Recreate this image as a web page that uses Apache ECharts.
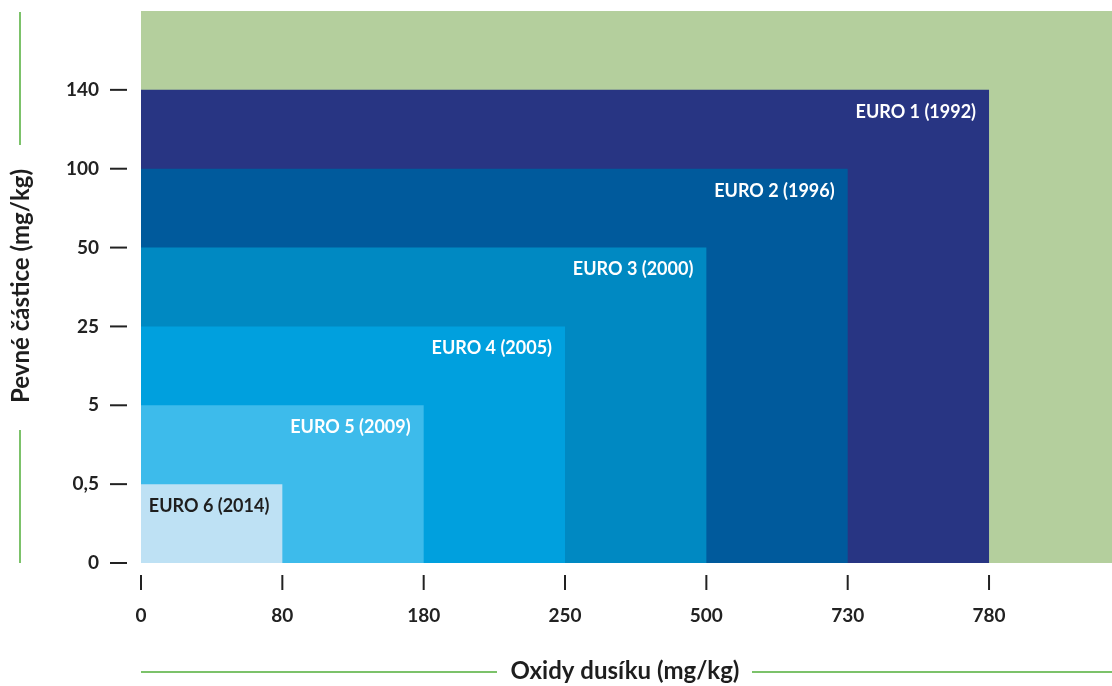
<!DOCTYPE html>
<html>
<head>
<meta charset="utf-8">
<script src="https://cdn.jsdelivr.net/npm/echarts@6/dist/echarts.min.js"></script>
<style>
  html, body { margin: 0; padding: 0; background: #ffffff; }
  #chart { width: 1112px; height: 686px; }
</style>
</head>
<body>
<div id="chart"></div>
<script>
// Tick labels of both axes (placed at equal steps, not to scale)
const noxTicks = ['0', '80', '180', '250', '500', '730', '780'];
const pmTicks = ['0', '0,5', '5', '25', '50', '100', '140'];

// Emission standards and their limits
const euroNames = ['EURO 1 (1992)', 'EURO 2 (1996)', 'EURO 3 (2000)', 'EURO 4 (2005)', 'EURO 5 (2009)', 'EURO 6 (2014)'];
const noxLimits = ['780', '730', '500', '250', '180', '80'];
const pmLimits = ['140', '100', '50', '25', '5', '0,5'];
const euroColors = ['#283583', '#005a9c', '#0089c2', '#00a0de', '#3dbbeb', '#bee1f4'];
const labelColors = ['#ffffff', '#ffffff', '#ffffff', '#ffffff', '#ffffff', '#1e1e1e'];

const FONT = 'Lato, "Open Sans", sans-serif';
const axisGreen = '#7cc26a';
const ink = '#222222';

const rows = euroNames.map((name, i) => [
  noxTicks.indexOf(noxLimits[i]),
  pmTicks.indexOf(pmLimits[i]),
  name,
  i
]);

const chart = echarts.init(document.getElementById('chart'), null, { renderer: 'canvas' });

chart.setOption({
  animation: false,
  grid: {
    left: 141, right: 0, top: 11, bottom: 123,
    show: true, backgroundColor: '#b4cf9d', borderWidth: 0
  },
  xAxis: {
    type: 'value', min: 0, max: 6.87,
    splitLine: { show: false },
    axisLine: { show: false },
    axisTick: { show: false },
    axisLabel: {
      customValues: noxTicks.map((t, i) => i),
      margin: 12,
      formatter: v => '{bar|}\n{num|' + noxTicks[Math.round(v)] + '}',
      rich: {
        bar: { width: 2, height: 15, backgroundColor: ink },
        num: {
          color: ink, fontFamily: FONT, fontWeight: 'bold', fontSize: 19,
          padding: [16, 0, 0, 0], align: 'center'
        }
      }
    }
  },
  yAxis: {
    type: 'value', min: 0, max: 7,
    splitLine: { show: false },
    axisLine: { show: false },
    axisTick: { show: false },
    axisLabel: {
      customValues: pmTicks.map((t, i) => i),
      margin: 14,
      formatter: v => '{num|' + pmTicks[Math.round(v)] + '}{dash|}',
      rich: {
        num: { color: ink, fontFamily: FONT, fontWeight: 'bold', fontSize: 19, padding: [0, 11, 0, 0] },
        dash: { width: 17, height: 2, backgroundColor: ink }
      }
    }
  },
  graphic: [
    { type: 'line', shape: { x1: 20, y1: 12, x2: 20, y2: 145 }, style: { stroke: axisGreen, lineWidth: 2 } },
    { type: 'line', shape: { x1: 20, y1: 430, x2: 20, y2: 563 }, style: { stroke: axisGreen, lineWidth: 2 } },
    { type: 'line', shape: { x1: 141, y1: 672, x2: 497, y2: 672 }, style: { stroke: axisGreen, lineWidth: 2 } },
    { type: 'line', shape: { x1: 752, y1: 672, x2: 1112, y2: 672 }, style: { stroke: axisGreen, lineWidth: 2 } },
    {
      type: 'text', x: 21, y: 286, rotation: Math.PI / 2,
      style: {
        text: 'Pevné částice (mg/kg)', fill: '#1e1e1e',
        font: 'bold 24px ' + FONT, align: 'center', verticalAlign: 'middle'
      }
    },
    {
      type: 'text', x: 625, y: 671,
      style: {
        text: 'Oxidy dusíku (mg/kg)', fill: '#1e1e1e',
        font: 'bold 24px ' + FONT, align: 'center', verticalAlign: 'middle'
      }
    }
  ],
  series: [{
    type: 'custom',
    data: rows,
    renderItem: (params, api) => {
      const origin = api.coord([0, 0]);
      const corner = api.coord([api.value(0), api.value(1)]);
      const idx = api.value(3);
      return {
        type: 'group',
        children: [
          {
            type: 'rect',
            shape: { x: origin[0], y: corner[1], width: corner[0] - origin[0], height: origin[1] - corner[1] },
            style: { fill: euroColors[idx] }
          },
          {
            type: 'text',
            x: corner[0] - 13, y: corner[1] + 22,
            style: {
              text: euroNames[idx], fill: labelColors[idx],
              font: 'bold 18px ' + FONT, align: 'right', verticalAlign: 'middle'
            }
          }
        ]
      };
    }
  }]
});
</script>
</body>
</html>
